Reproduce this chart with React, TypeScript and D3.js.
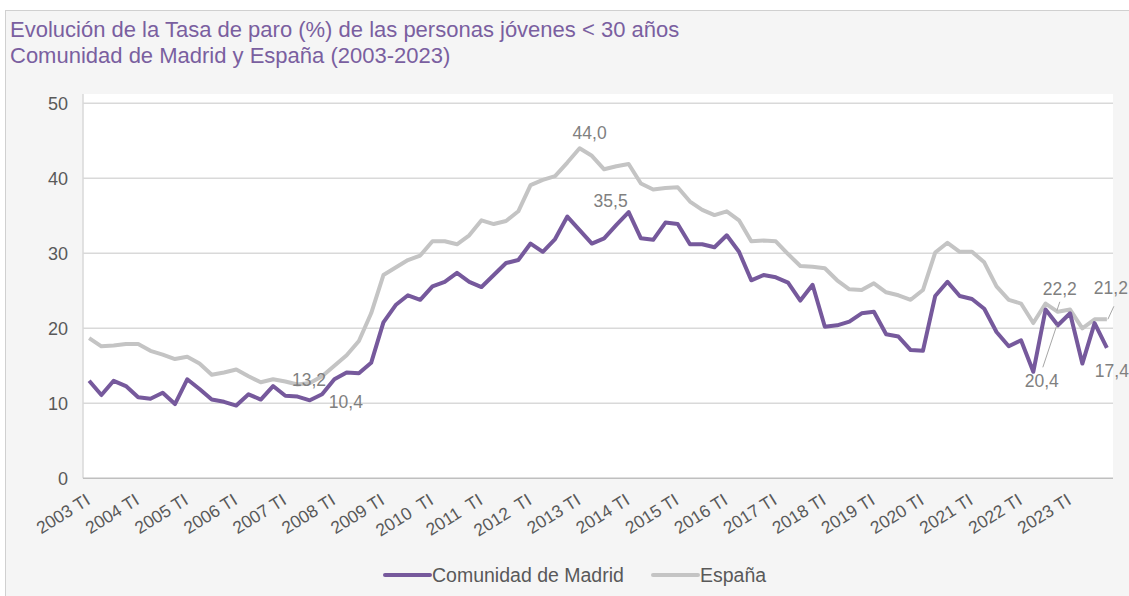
import React from "react";
import * as d3 from "d3";

const W = 1129;
const H = 596;

const quarters: string[] = [];
for (let y = 2003; y <= 2023; y++) for (const q of ["TI", "TII", "TIII", "TIV"]) quarters.push(`${y} ${q}`);

const xTickLabels = [
  "2003 TI", "2004 TI", "2005 TI", "2006 TI", "2007 TI", "2008 TI", "2009 TI",
  "2010  TI", "2011  TI", "2012  TI", "2013 TI", "2014 TI", "2015 TI", "2016 TI",
  "2017 TI", "2018 TI", "2019 TI", "2020 TI", "2021 TI", "2022 TI", "2023 TI",
];

const madrid = [
  13.0, 11.1, 13.0, 12.3, 10.8, 10.6, 11.4, 9.9,
  13.2, 11.9, 10.5, 10.2, 9.7, 11.2, 10.5, 12.3,
  11.0, 10.9, 10.4, 11.2, 13.2, 14.1, 14.0, 15.4,
  20.8, 23.1, 24.4, 23.8, 25.6, 26.2, 27.4, 26.2,
  25.5, 27.1, 28.7, 29.1, 31.3, 30.2, 31.9, 34.9,
  33.1, 31.3, 32.0, 33.8, 35.5, 32.0, 31.8, 34.1,
  33.9, 31.2, 31.2, 30.8, 32.4, 30.2, 26.4, 27.1,
  26.8, 26.1, 23.7, 25.8, 20.2, 20.4, 20.9, 22.0,
  22.2, 19.2, 18.9, 17.1, 17.0, 24.3, 26.2, 24.3,
  23.9, 22.6, 19.5, 17.6, 18.4, 14.2, 22.5, 20.4,
  22.0, 15.3, 20.7, 17.4,
];

const espana = [
  18.7, 17.6, 17.7, 17.9, 17.9, 17.0, 16.5, 15.9,
  16.2, 15.3, 13.8, 14.1, 14.5, 13.6, 12.8, 13.2,
  12.9, 12.5, 12.7, 13.6, 15.0, 16.4, 18.3, 22.0,
  27.1, 28.1, 29.1, 29.7, 31.6, 31.6, 31.2, 32.4,
  34.4, 33.9, 34.3, 35.6, 39.1, 39.8, 40.3, 42.1,
  44.0, 43.0, 41.2, 41.6, 41.9, 39.3, 38.5, 38.7,
  38.8, 36.9, 35.8, 35.1, 35.6, 34.4, 31.6, 31.7,
  31.6, 29.9, 28.3, 28.2, 28.0, 26.4, 25.2, 25.1,
  26.0, 24.8, 24.4, 23.8, 25.1, 30.1, 31.4, 30.2,
  30.2, 28.8, 25.6, 23.8, 23.3, 20.7, 23.3, 22.2,
  22.5, 20.0, 21.2, 21.2,
];

const yTicks = [0, 10, 20, 30, 40, 50];

const seriesNames = ["Comunidad de Madrid", "España"];
const PURPLE = "#76599c";
const GRAY = "#c4c4c4";
const TEXT = "#595959";
const LABEL = "#808080";
const FONT = "'Liberation Sans', Arial, sans-serif";

// data labels: series, index, offsets, optional leader line
const dataLabels: { s: number; i: number; dx: number; dy: number; lead?: [number, number, number, number] }[] = [
  { s: 1, i: 40, dx: 10, dy: -9 },
  { s: 0, i: 44, dx: -18, dy: -5 },
  { s: 1, i: 15, dx: 36, dy: 7 },
  { s: 0, i: 18, dx: 36, dy: 8 },
  { s: 1, i: 79, dx: 2, dy: -17, lead: [-1, -1, 2, -10] },
  { s: 0, i: 79, dx: -16, dy: 62, lead: [-1, 0, -15, 42] },
  { s: 1, i: 83, dx: 4, dy: -25, lead: [1, 0, 7, -13] },
  { s: 0, i: 83, dx: 5, dy: 29 },
];

export default function App() {
  const x = d3.scaleBand<number>().domain(d3.range(quarters.length)).range([83, 1113]).padding(0);
  const cx = (i: number) => (x(i) as number) + x.bandwidth() / 2;
  const y = d3.scaleLinear().domain([0, 50]).range([478.3, 103.3]);
  const line = d3
    .line<number>()
    .x((_, i) => cx(i))
    .y((d) => y(d));
  const series = [madrid, espana];
  const colors = [PURPLE, GRAY];

  return (
    <svg width={W} height={H} style={{ position: "absolute", left: 0, top: 0, fontFamily: FONT }}>
      <rect x={0} y={0} width={W} height={H} fill="#ffffff" />
      <rect x={5.5} y={10.5} width={W + 10} height={H + 10} fill="#f5f5f5" stroke="#d0d0d0" strokeWidth={1} />
      <text x={10} y={37} fontSize={22} fill="#7a5fa0">
        Evolución de la Tasa de paro (%) de las personas jóvenes &lt; 30 años
      </text>
      <text x={10} y={63} fontSize={22} fill="#7a5fa0">
        Comunidad de Madrid y España (2003-2023)
      </text>
      <rect x={83} y={94} width={1030} height={478.3 - 94} fill="#ffffff" />
      {yTicks.map((t) => (
        <g key={t}>
          {t > 0 && <line x1={83} x2={1113} y1={y(t)} y2={y(t)} stroke="#d9d9d9" strokeWidth={1.5} />}
          <text x={68} y={y(t)} dy="0.35em" textAnchor="end" fontSize={18} fill={TEXT}>
            {t}
          </text>
        </g>
      ))}
      <line x1={83} x2={83} y1={94} y2={478.3} stroke="#d9d9d9" strokeWidth={1.5} />
      <line x1={83} x2={1113} y1={478.3} y2={478.3} stroke="#bfbfbf" strokeWidth={1.5} />
      {xTickLabels.map((lab, k) => {
        const i = k * 4;
        return (
          <text
            key={lab}
            transform={`translate(${cx(i) - 1},${498}) rotate(-32)`}
            textAnchor="end"
            dy="0.35em"
            fontSize={17.5}
            fill={TEXT}
            style={{ whiteSpace: "pre" }}
          >
            {lab}
          </text>
        );
      })}
      {[1, 0].map((s) => (
        <path key={s} d={line(series[s]) || ""} fill="none" stroke={colors[s]} strokeWidth={4} strokeLinejoin="round" />
      ))}
      {dataLabels.map((l, k) => {
        const px = cx(l.i);
        const py = y(series[l.s][l.i]);
        return (
          <g key={k}>
            {l.lead && (
              <line
                x1={px + l.lead[0]}
                y1={py + l.lead[1]}
                x2={px + l.lead[2]}
                y2={py + l.lead[3]}
                stroke="#a6a6a6"
                strokeWidth={1}
              />
            )}
            <text x={px + l.dx} y={py + l.dy} textAnchor="middle" fontSize={17.5} fill={LABEL}>
              {series[l.s][l.i].toFixed(1).replace(".", ",")}
            </text>
          </g>
        );
      })}
      {seriesNames.map((n, s) => {
        const lx = s === 0 ? 385 : 653;
        return (
          <g key={n}>
            <line x1={lx} x2={lx + 45} y1={575} y2={575} stroke={colors[s]} strokeWidth={4} strokeLinecap="round" />
            <text x={lx + 47} y={575} dy="0.35em" fontSize={19.5} fill={TEXT}>
              {n}
            </text>
          </g>
        );
      })}
    </svg>
  );
}
